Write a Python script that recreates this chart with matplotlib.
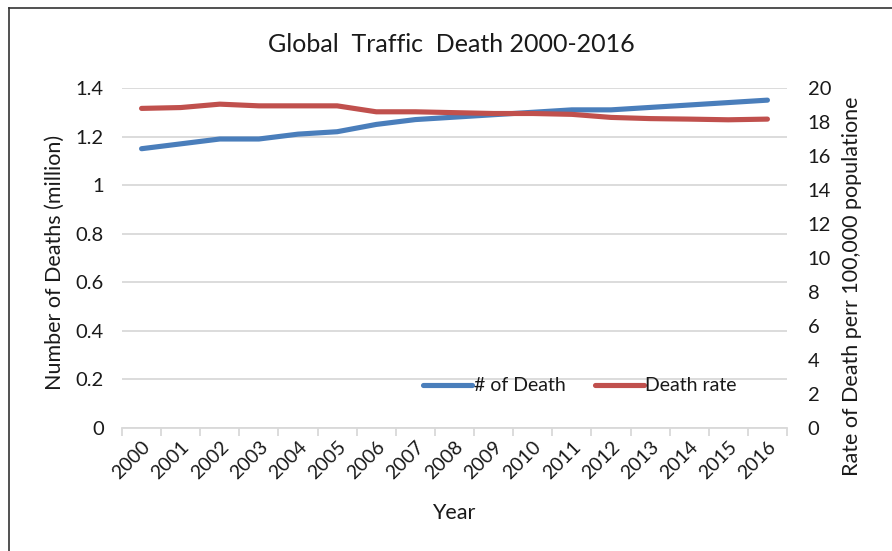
import matplotlib
matplotlib.use("Agg")
import matplotlib.pyplot as plt
from matplotlib.lines import Line2D
import numpy as np

plt.rcParams['font.family'] = ['Lato', 'DejaVu Sans']

years = ['2000', '2001', '2002', '2003', '2004', '2005', '2006', '2007', '2008',
         '2009', '2010', '2011', '2012', '2013', '2014', '2015', '2016']
deaths_million = [1.15, 1.17, 1.19, 1.19, 1.21, 1.22, 1.25, 1.27, 1.28,
                  1.29, 1.30, 1.31, 1.31, 1.32, 1.33, 1.34, 1.35]
death_rate = [18.8, 18.85, 19.05, 18.95, 18.95, 18.95, 18.6, 18.6, 18.55,
              18.5, 18.5, 18.45, 18.27, 18.2, 18.17, 18.13, 18.17]

blue = '#4a7ebb'
red = '#c0504d'
grid_c = '#d9d9d9'
text_c = '#1a1a1a'

W, H = 892, 551
fig = plt.figure(figsize=(W / 100, H / 100), dpi=100)
ax = fig.add_axes([122 / W, (H - 428) / H, 665 / W, 340 / H])
ax2 = ax.twinx()

x = np.arange(len(years))
l1, = ax.plot(x, deaths_million, color=blue, lw=3.7, solid_capstyle='round',
              zorder=3)
l2, = ax2.plot(x, death_rate, color=red, lw=3.7, solid_capstyle='round',
               zorder=3)

ax.set_xlim(-0.5, len(years) - 0.5)
ax.set_ylim(0, 1.4)
ax2.set_ylim(0, 20)
ax.set_yticks(np.arange(0, 1.41, 0.2))
ax.set_yticklabels(['0', '0.2', '0.4', '0.6', '0.8', '1', '1.2', '1.4'])
ax2.set_yticks(np.arange(0, 21, 2))

ax.grid(axis='y', color=grid_c, lw=1.3, zorder=0)
ax.set_axisbelow(True)
for a in (ax, ax2):
    for s in a.spines.values():
        s.set_visible(False)
ax.spines['bottom'].set_visible(True)
ax.spines['bottom'].set_color(grid_c)
ax.spines['bottom'].set_linewidth(1.3)

# year labels at category centres, tick marks at category edges
ax.set_xticks(x)
ax.set_xticklabels(years, rotation=45, ha='right', rotation_mode='anchor',
                   fontsize=14, color=text_c)
ax.set_xticks(np.arange(-0.5, len(years)), minor=True)
ax.tick_params(axis='x', which='major', length=0, pad=7)
ax.tick_params(axis='x', which='minor', length=6, width=1.3, color=grid_c,
               direction='out')
ax.tick_params(axis='y', length=0, pad=13, labelsize=14.5, labelcolor=text_c)
ax2.tick_params(axis='y', length=0, pad=15, labelsize=14.5, labelcolor=text_c)

fig.text(451 / W, 1 - 45 / H, 'Global  Traffic  Death 2000-2016', fontsize=18,
         color=text_c, ha='center', va='center')
fig.text(454 / W, 1 - 513 / H, 'Year', fontsize=15.5, color=text_c,
         ha='center', va='center')
fig.text(55 / W, 1 - 262 / H, 'Number of Deaths (million)', fontsize=15.5,
         color=text_c, ha='center', va='center', rotation=90)
fig.text(852 / W, 1 - 286 / H, 'Rate of Death perr 100,000 populatione',
         fontsize=15.5, color=text_c, ha='center', va='center', rotation=90)

ax2.legend([l1, l2], ['# of Death', 'Death rate'], ncol=2, frameon=False,
           loc='center', bbox_to_anchor=(0.689, 0.124), fontsize=14,
           handlelength=2.5, handletextpad=0.1, columnspacing=1.5,
           labelcolor=text_c)

# chart frame along the top and left edges
fig.add_artist(Line2D([9 / W, 1], [1 - 8 / H, 1 - 8 / H],
                      transform=fig.transFigure, color='#333333', lw=1.2))
fig.add_artist(Line2D([9 / W, 9 / W], [0, 1 - 8 / H],
                      transform=fig.transFigure, color='#333333', lw=1.2))

fig.savefig('out.png', dpi=100)
